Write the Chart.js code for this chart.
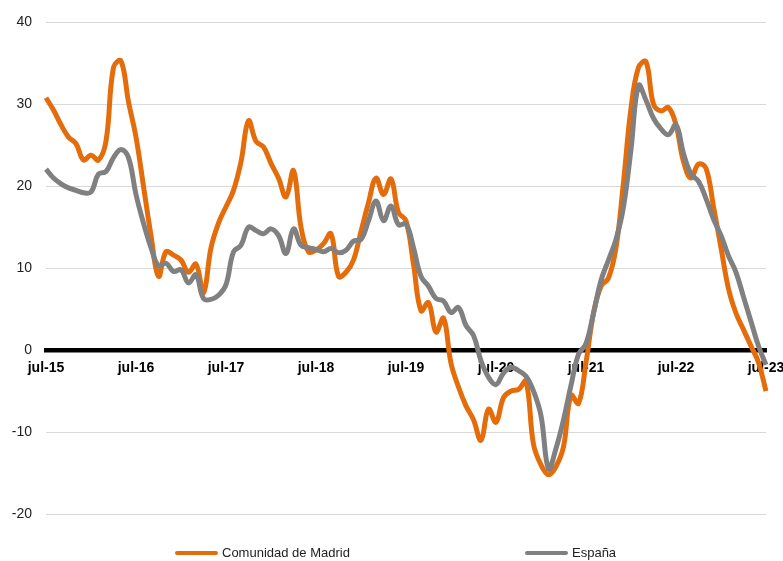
<!DOCTYPE html>
<html>
<head>
<meta charset="utf-8">
<script src="https://cdn.jsdelivr.net/npm/chart.js@4.4.0/dist/chart.umd.min.js"></script>
<style>
  html, body { margin: 0; padding: 0; background: #fff; }
  #wrap { width: 783px; height: 561px; }
</style>
</head>
<body>
<div id="wrap"><canvas id="chart"></canvas></div>
<script>
// month labels, jul-15 ... jul-23 (only the julys are shown on the axis)
const monthNames = ['jul', 'ago', 'sep', 'oct', 'nov', 'dic', 'ene', 'feb', 'mar', 'abr', 'may', 'jun'];
const labels = [];
for (let i = 0; i <= 96; i++) {
    labels.push(monthNames[i % 12] + '-' + (15 + Math.floor((i + 6) / 12)));
}

const seriesNames = ['Comunidad de Madrid', 'España'];
const seriesColors = ['#E46C0A', '#808080'];

const madrid = [
    30.8, 29.3, 27.5, 26, 25.2, 23.2, 23.8, 23.2, 25.5, 34.5, 35.3, 30.3,
    26, 20, 14, 9, 12, 11.6, 11, 9.5, 10.5, 7, 12.5, 15.5,
    17.5, 19.5, 23, 28, 25.5, 24.8, 22.8, 21, 18.7, 21.9, 15, 12,
    12.2, 13, 14.2, 9, 9.5, 11, 14.5, 18, 21, 19, 20.9, 16.8,
    15.8, 10.5, 4.8, 5.8, 2.2, 3.9, -1.6, -4.5, -6.8, -8.5, -11, -7.2,
    -8.8, -5.8, -5, -4.8, -3.8, -11.5, -14, -15.2, -14.2, -11.8, -5.5, -6.5,
    -1.5, 4.5, 7.8, 8.8, 12.5, 20.5, 29.5, 34.5, 35.2, 30, 29.2, 29.6,
    27.5, 23, 21, 22.7, 22.2, 17.5, 12.5, 7.5, 4.5, 2.5, 0.5, -1.5,
    -5
];

const espana = [
    22.1, 21, 20.3, 19.8, 19.5, 19.2, 19.3, 21.5, 21.8, 23.5, 24.5, 23.5,
    19, 15.5, 12.5, 10.3, 10.6, 9.6, 9.8, 8.2, 9.2, 6.3, 6.2, 6.7,
    8, 12, 12.8, 15, 14.6, 14.2, 14.8, 14, 11.8, 14.8, 12.8, 12.5,
    12.3, 12, 12.4, 11.9, 12.2, 13.3, 13.5, 15.8, 18.2, 15.8, 17.6, 15.3,
    15.4, 12.5, 9, 7.8, 6.3, 6, 4.6, 5.2, 3, 1.8, -1.3, -3.3,
    -4.2, -2.8, -2.1, -2.5, -3.2, -5, -8, -14.5, -12, -8.5, -4.3, -0.5,
    0.8, 4.5, 8.5, 11, 13.5, 17.5, 24.5, 32.3, 30.5, 28.3, 27, 26.3,
    27.5, 24, 21.5, 20.6, 18.5, 16, 14, 11.5, 9.5, 6.5, 3.5, 0.5,
    -1.8
];

const yMin = -20, yMax = 40, yStep = 10;

// legend drawn under the plot, two widely spaced items
const bottomLegend = {
    id: 'bottomLegend',
    afterDraw(chart) {
        const ctx = chart.ctx;
        const y = 553;
        const starts = [175, 525];
        ctx.save();
        chart.data.datasets.forEach((ds, i) => {
            const x = starts[i];
            ctx.strokeStyle = ds.borderColor;
            ctx.lineWidth = 4;
            ctx.lineCap = 'round';
            ctx.beginPath();
            ctx.moveTo(x + 2, y);
            ctx.lineTo(x + 41, y);
            ctx.stroke();
            ctx.fillStyle = '#222';
            ctx.font = '13px "Liberation Sans", Arial, sans-serif';
            ctx.textBaseline = 'middle';
            ctx.textAlign = 'left';
            ctx.fillText(ds.label, x + 47, y);
        });
        ctx.restore();
    }
};

const ctx = document.getElementById('chart').getContext('2d');
const chart = new Chart(ctx, {
    type: 'line',
    data: {
        labels: labels,
        datasets: [{
            label: seriesNames[0],
            data: madrid,
            borderColor: seriesColors[0],
            borderWidth: 5,
            tension: 0.4,
            pointRadius: 0,
            fill: false,
            order: 1
        }, {
            label: seriesNames[1],
            data: espana,
            borderColor: seriesColors[1],
            borderWidth: 5,
            tension: 0.4,
            pointRadius: 0,
            fill: false,
            order: 0
        }]
    },
    options: {
        responsive: true,
        maintainAspectRatio: false,
        animation: false,
        layout: {
            padding: { top: 21, bottom: 47, left: 0, right: 17 }
        },
        plugins: {
            legend: { display: false },
            tooltip: { enabled: false }
        },
        scales: {
            x: {
                position: { y: 0 },
                offset: false,
                grid: { display: true, drawOnChartArea: false, drawTicks: false },
                border: { display: true, color: '#000', width: 4.5 },
                ticks: {
                    autoSkip: false,
                    maxRotation: 0,
                    padding: 10,
                    color: '#000',
                    font: { family: '"Liberation Sans", Arial, sans-serif', size: 14, weight: 'bold' },
                    callback: (v, i) => (i % 12 === 0 ? labels[i] : '')
                },
                afterFit: (axis) => { axis.paddingLeft = 0; axis.paddingRight = 0; }
            },
            y: {
                min: yMin,
                max: yMax,
                border: { display: false },
                grid: {
                    drawTicks: false,
                    color: (c) => (c.tick && c.tick.value === 0 ? 'rgba(0,0,0,0)' : '#d9d9d9'),
                    lineWidth: 1
                },
                ticks: {
                    stepSize: yStep,
                    padding: 14,
                    color: '#222',
                    font: { family: '"Liberation Sans", Arial, sans-serif', size: 14 }
                },
                afterFit: (axis) => { axis.width = 46; }
            }
        }
    },
    plugins: [bottomLegend]
});
</script>
</body>
</html>
